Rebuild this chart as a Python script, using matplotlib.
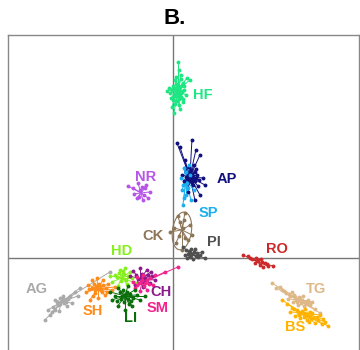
from matplotlib import pyplot as plt
from matplotlib.patches import Ellipse

# group names, colours, centroids (LD1, LD2) and label positions
groups = ['HF', 'AP', 'SP', 'NR', 'CK', 'PI', 'RO', 'TG', 'BS',
          'AG', 'SH', 'HD', 'CH', 'SM', 'LI']
colors = ['#1EE682', '#10107E', '#1CAFEF', '#B655E8', '#8C7558', '#505050',
          '#CC2A2A', '#DEB887', '#FFB300', '#AAAAAA', '#FF8C1A', '#86F01E',
          '#8B1A8B', '#F0248C', '#0A6E0A']
centers = [(0.5, 16.8), (1.7, 8.1), (1.3, 7.8), (-3.2, 6.5), (0.9, 2.8),
           (1.9, 0.3), (8.5, -0.4), (12.5, -4.2), (12.9, -5.5),
           (-11.1, -4.4), (-7.5, -3.1), (-5.1, -2.0), (-3.3, -2.1),
           (-3.1, -2.5), (-4.8, -3.8)]
label_pos = [(3.0, 16.3), (5.4, 7.9), (3.5, 4.5), (-2.7, 8.1), (-2.0, 2.2),
             (4.1, 1.6), (10.4, 0.9), (14.3, -3.1), (12.2, -6.9),
             (-13.6, -3.1), (-8.0, -5.3), (-5.1, 0.7), (-1.2, -3.4),
             (-1.5, -5.0), (-4.2, -6.0)]

# individual scores, as offsets from each group centroid
HF = [(0.0, 2.8), (0.1, 2.0), (0.3, 1.5), (0.9, 1.2), (1.2, 1.0), (-0.3, 1.0),
      (0.5, 0.7), (-0.5, 0.4), (0.2, 0.3), (-0.9, 0.2), (0.6, 0.0), (-1.1, -0.1),
      (0.3, -0.3), (-0.4, -0.4), (0.8, -0.5), (-0.7, -0.8), (0.1, -0.9),
      (0.5, -1.2), (-0.3, -1.4), (-0.6, -1.7), (0.2, -1.9), (-0.4, -2.3),
      (0.4, -0.1), (-0.2, 0.6), (0.0, -0.6), (-0.8, -0.3), (0.6, 0.4),
      (-0.1, -1.1), (0.3, 1.1), (-0.5, -1.0), (0.1, 0.1), (-0.3, 0.2),
      (0.2, -0.4), (-0.2, -0.2), (0.4, 0.5), (-0.4, -0.6), (0.0, 0.4),
      (0.3, -0.7), (-0.6, 0.0), (0.1, -1.5), (-0.2, 1.3), (0.5, -0.9)]
AP = [(-1.3, 3.4), (-1.0, 3.0), (0.2, 3.7), (0.6, 2.7), (1.0, 2.2), (-0.5, 1.7),
      (1.5, -0.8), (1.0, -1.8), (0.5, -2.3), (-0.2, -1.5), (1.3, -0.1),
      (-0.8, 0.2), (-0.5, 0.9), (0.2, 0.3), (-0.3, -0.2), (0.5, -0.4),
      (0.1, 0.7), (-0.4, 0.5), (0.7, 0.2), (0.3, -0.8), (-0.2, -0.6),
      (0.6, 0.8), (-0.6, -0.4), (0.9, -0.3), (0.0, 0.0), (0.4, 1.2),
      (-0.1, 1.0), (0.8, -0.9), (0.1, -0.2), (-0.2, 0.2), (0.3, 0.1),
      (0.5, 0.5), (-0.4, 0.0), (0.2, -0.5), (0.6, -0.1), (-0.1, 0.4),
      (0.4, -0.2), (0.0, -0.4)]
SP = [(-0.3, -2.5), (0.0, -1.5), (0.5, -2.0), (-0.2, 1.2), (0.3, 1.5),
      (-0.3, -0.5), (0.2, -0.8), (-0.5, 0.2), (0.4, 0.5), (0.0, 0.8),
      (0.8, -1.0), (-0.2, -1.8), (-0.4, -1.0), (0.1, -0.3)]
NR = [(-1.3, 0.7), (-0.8, 0.5), (-0.3, 1.0), (0.4, 0.5), (0.9, 0.1),
      (0.7, -0.5), (0.2, -0.7), (-0.4, -0.5), (-0.7, -0.1), (-0.1, 0.3),
      (0.3, -0.2), (0.5, 0.8), (-0.2, -0.4), (0.1, 0.6)]
CK = [(-0.8, 0.2), (0.8, 0.5), (0.3, 1.7), (-0.4, 1.4), (0.6, -1.0),
      (-0.6, -1.3), (0.0, -2.0), (-1.2, -0.2), (1.0, -0.5), (-0.2, 0.8),
      (0.3, -0.8), (-0.3, -0.6), (0.2, 1.0), (0.1, 0.2)]
PI = [(-0.9, 0.8), (-0.6, 0.5), (0.3, 0.6), (0.8, 0.0), (1.3, -0.3),
      (-0.2, -0.2), (-0.4, 0.1), (0.5, 0.2), (0.1, -0.4), (-0.7, 0.0),
      (1.0, 0.3), (-0.1, 0.6), (0.6, -0.2), (0.2, 0.3), (-0.3, 0.4),
      (0.4, -0.1), (0.0, 0.1), (-0.5, -0.3)]
RO = [(-1.5, 0.7), (-1.0, 0.6), (-0.6, 0.3), (-0.2, 0.4), (0.4, 0.0),
      (1.0, -0.4), (1.5, -0.4), (0.2, -0.3), (-0.3, -0.1), (0.7, -0.1),
      (0.0, 0.2), (0.5, -0.5), (-0.8, 0.4), (0.3, 0.3), (0.9, -0.2)]
TG = [(-2.6, 1.7), (-2.2, 1.2), (-1.6, 1.0), (-1.2, 0.7), (-0.8, 0.4),
      (-0.3, 0.3), (0.2, 0.1), (0.7, -0.2), (1.2, -0.5), (1.7, -0.9),
      (2.2, -1.3), (-0.5, -0.2), (0.5, 0.4), (0.0, -0.5), (-1.0, 0.1),
      (1.0, 0.0), (-1.8, 1.3), (1.4, -0.2), (-0.6, 0.8), (0.3, -0.3),
      (-0.2, 0.0), (0.4, 0.0), (-0.4, 0.5), (0.8, -0.4), (-1.4, 0.9),
      (0.1, 0.3), (0.6, -0.6), (-0.9, 0.6), (1.1, -0.3), (-0.1, -0.2)]
BS = [(-2.0, 1.3), (-1.5, 0.9), (-1.0, 0.5), (-0.5, 0.3), (0.1, 0.0),
      (0.6, -0.3), (1.1, -0.5), (1.6, -0.7), (2.3, -0.9), (2.6, -1.3),
      (-0.7, -0.3), (0.8, 0.1), (-0.2, -0.5), (0.3, 0.4), (1.3, -1.0),
      (-1.2, 0.1), (1.8, -0.2), (0.5, -0.7), (-0.4, 0.1), (2.0, -1.1),
      (0.0, 0.2), (0.4, -0.2), (-0.3, -0.2), (0.9, -0.6), (1.5, -0.4),
      (0.2, -0.4), (-0.8, 0.4), (1.0, 0.0), (0.7, -0.9), (2.1, -0.6)]
AG = [(-1.7, -1.8), (-1.2, -1.3), (-0.7, -0.8), (-0.4, -0.3), (0.3, 0.2),
      (0.8, 0.6), (1.3, 1.0), (1.8, 1.4), (-0.2, 0.4), (0.5, -0.4),
      (-0.7, 0.2), (0.1, 0.6), (-1.4, -0.8), (1.0, -0.1), (1.6, 0.6),
      (4.8, 3.0), (-0.3, -0.9), (0.4, 0.0), (0.0, 0.1), (-0.2, -0.2),
      (0.2, -0.1), (0.6, 0.3), (-0.5, 0.0), (-0.9, -0.5), (0.1, 0.3),
      (-1.0, -1.0)]
SH = [(-1.2, -0.3), (-1.0, 0.4), (-0.6, 0.9), (-0.1, 1.1), (0.5, 0.9),
      (1.0, 0.5), (1.4, -0.1), (0.7, -0.6), (0.0, -0.9), (-0.5, -0.7),
      (0.2, 0.2), (-0.3, -0.1), (0.4, -0.3), (1.7, 0.2), (-0.8, -1.1),
      (-0.4, 0.5), (0.8, 0.1), (0.0, 0.0), (-0.2, 0.3), (0.3, -0.1),
      (0.1, 0.5), (-0.6, 0.1), (0.5, 0.4), (-0.3, -0.4), (0.9, -0.3),
      (-0.9, 0.0)]
HD = [(-1.0, -0.4), (-0.7, 0.3), (-0.2, 0.8), (0.3, 1.0), (0.8, 0.6),
      (1.0, 0.0), (0.5, -0.6), (-0.4, -0.8), (0.0, 0.0), (-1.2, 0.2),
      (1.3, -0.5), (0.2, 0.4), (-0.5, 0.1), (0.6, 0.2), (-0.1, -0.3),
      (0.4, -0.2), (-0.3, 0.5), (0.1, 0.7)]
CH = [(-1.0, 0.3), (-0.7, 0.8), (0.0, 1.1), (0.7, 0.9), (1.2, 0.3),
      (1.0, -0.4), (0.3, -0.8), (-0.5, -0.6), (-0.2, 0.0), (0.5, 0.1),
      (1.5, -0.1), (0.2, 0.5), (-0.4, 0.4), (0.8, 0.4), (0.4, -0.3),
      (1.1, 0.7)]
SM = [(-0.9, 0.1), (-0.5, 0.6), (0.1, 0.8), (0.8, 0.5), (1.1, -0.2),
      (0.5, -0.7), (-0.2, -0.8), (-0.7, -0.5), (0.3, 0.0), (3.6, 1.6),
      (2.3, 1.1), (1.3, 0.8), (0.0, 0.3), (-0.3, 0.0), (0.5, 0.3),
      (0.2, -0.3), (-0.5, -0.2), (0.7, -0.1)]
LI = [(-1.5, 0.4), (-1.3, -0.4), (-0.7, -1.0), (0.0, -1.4), (0.7, -1.0),
      (1.5, -0.4), (2.0, 0.0), (1.0, 0.6), (0.3, 1.0), (-0.7, 0.8),
      (-0.3, 0.0), (0.3, -0.3), (0.5, 0.2), (-1.0, 0.0), (-0.1, -0.6),
      (0.8, -0.2), (-0.5, 0.4), (0.0, 0.1), (0.2, 0.4), (-0.4, -0.3),
      (0.6, -0.5), (-0.2, 0.6), (0.4, -0.8), (1.2, 0.1), (-0.8, -0.5)]
scores = [HF, AP, SP, NR, CK, PI, RO, TG, BS, AG, SH, HD, CH, SM, LI]

fig = plt.figure(figsize=(3.6, 3.5), dpi=100)
ax = fig.add_axes([0.022, -0.014, 0.975, 0.914])
ax.set_xlim(-16.5, 18.6)
ax.set_ylim(-9.7, 22.3)

# axes through the origin
ax.axhline(0, color='#777777', linewidth=1, zorder=1)
ax.axvline(0, color='#777777', linewidth=1, zorder=1)

# spider plot: line from centroid to every individual
for name, col, (cx, cy), pts, (lx, ly) in zip(groups, colors, centers,
                                               scores, label_pos):
    xs = [cx + dx for dx, dy in pts]
    ys = [cy + dy for dx, dy in pts]
    for x, y in zip(xs, ys):
        ax.plot([cx, x], [cy, y], color=col, linewidth=0.7, zorder=2)
    ax.plot(xs, ys, 'o', color=col, markersize=2.8, markeredgewidth=0, zorder=3)
    if name == 'CK':
        ax.add_patch(Ellipse((cx, cy - 0.1), 1.9, 3.8, angle=-8, fill=False,
                             edgecolor=col, linewidth=0.8, zorder=2))
    ax.text(lx, ly, name, color=col, fontsize=10.5, fontweight='bold',
            family='Liberation Sans', ha='center', va='center', zorder=4)

for s in ['top', 'bottom', 'left', 'right']:
    ax.spines[s].set_color('#888888')
    ax.spines[s].set_linewidth(1)
ax.set_xticks([])
ax.set_yticks([])

fig.text(0.486, 0.948, 'B.', fontsize=16, fontweight='bold',
         family='Liberation Sans', ha='center', va='center')

plt.savefig('out.png', dpi=100)
